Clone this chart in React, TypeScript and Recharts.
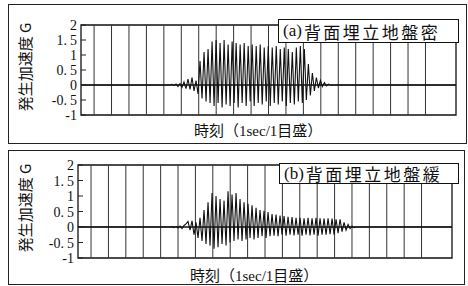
import React from 'react';
import { LineChart, Line, XAxis, YAxis, ReferenceLine, ReferenceArea } from 'recharts';

// ---- data ----
const Y_TICKS = [-1, -0.5, 0, 0.5, 1, 1.5, 2];
const GRID_TIMES = [0.75, 1.75, 2.75, 3.75, 4.75, 5.75, 6.75, 7.75, 8.75, 9.75, 10.75, 11.75, 12.75, 13.75, 14.75, 15.75, 16.75, 17.75, 18.75, 19.75];
const T_MIN = 0;
const T_MAX = 21.5;
const SAMPLE_DT = 0.115; // seconds between read samples

const A_TITLE = '(a)';
const A_NAME = '背面埋立地盤密';
const A_START = 5.1;
const A_VALUES = [0, 0.02, -0.02, 0.03, -0.05, 0.05, -0.08, 0.1, -0.12, 0.2, -0.15, 0.25, -0.2, 0.15, -0.3, 0.8, -0.45, 1.1, -0.55, 1.2, -0.6, 1.45, -0.7, 1.5, -0.6, 1.4, -0.75, 1.5, -0.65, 1.35, -0.7, 1.45, -0.6, 1.4, -0.75, 1.35, -0.6, 1.4, -0.7, 1.3, -0.55, 1.35, -0.7, 1.3, -0.6, 1.35, -0.65, 1.25, -0.55, 1.3, -0.7, 1.25, -0.6, 1.3, -0.65, 1.2, -0.55, 1.25, -0.7, 1.2, -0.6, 1.1, -0.65, 1.25, -0.55, 1.3, -0.6, 1.2, -0.5, 0.7, -0.35, 0.4, -0.2, 0.25, -0.1, 0.15, -0.05, 0.08, -0.03, 0.03, 0];

const B_TITLE = '(b)';
const B_NAME = '背面埋立地盤緩';
const B_START = 5.29;
const B_VALUES = [0, 0.01, -0.02, 0.02, -0.03, 0.03, -0.05, 0.05, 0.1, 0.18, -0.1, 0.2, -0.25, 0.15, -0.35, 0.3, -0.45, 0.55, -0.55, 0.8, -0.6, 1.1, -0.7, 1.0, -0.65, 0.9, -0.55, 0.85, -0.6, 1.15, -0.5, 1.05, -0.45, 1.1, -0.4, 0.9, -0.45, 0.8, -0.4, 0.75, -0.35, 0.7, -0.4, 0.62, -0.35, 0.55, -0.3, 0.52, -0.35, 0.48, -0.3, 0.42, -0.28, 0.4, -0.3, 0.37, -0.25, 0.35, -0.28, 0.33, -0.25, 0.32, -0.27, 0.3, -0.25, 0.3, -0.28, 0.28, -0.25, 0.3, -0.27, 0.28, -0.25, 0.3, -0.28, 0.28, -0.25, 0.27, -0.25, 0.28, -0.23, 0.27, -0.25, 0.25, -0.2, 0.25, -0.15, 0.15, -0.1, 0.08, -0.05, 0.03, -0.02, 0];

const X_LABEL = '時刻（1sec/1目盛）';
const Y_LABEL = '発生加速度 G';

const SERIF = '"Liberation Serif", "Noto Sans CJK JP", serif';
const CJK = '"Noto Sans CJK JP", "Liberation Serif", sans-serif';

function buildSeries(start: number, values: number[]) {
  const pts = values.map((v, i) => ({ t: +(start + i * SAMPLE_DT).toFixed(4), v }));
  return [{ t: T_MIN, v: 0 }, ...pts, { t: T_MAX, v: 0 }];
}

const YTick = (props: any) => {
  const { x, y, payload } = props;
  const val: number = payload.value;
  const s = String(val);
  const parts = s.split('.');
  return (
    <g>
      <text x={x} y={y} dy="0.36em" textAnchor="end" fontFamily={SERIF} fontSize={14} fill="#111">
        {parts.length > 1 ? (
          <>
            {parts[0] + '.'}
            <tspan dx={3}>{parts[1]}</tspan>
          </>
        ) : (
          s
        )}
      </text>
      <line x1={x + 4} x2={x + 9} y1={y} y2={y} stroke="#222" strokeWidth={1} />
    </g>
  );
};

type PanelProps = {
  top: number;
  height: number;
  margin: { top: number; right: number; bottom: number; left: number };
  data: { t: number; v: number }[];
};

const Panel = ({ top, height, margin, data }: PanelProps) => (
  <div style={{ position: 'absolute', left: 0, top, width: 468, height }}>
    <LineChart width={468} height={height} data={data} margin={margin}>
      <XAxis type="number" dataKey="t" domain={[T_MIN, T_MAX]} hide allowDataOverflow />
      <YAxis
        type="number"
        domain={[-1, 2]}
        ticks={Y_TICKS}
        width={40}
        axisLine={false}
        tickLine={false}
        tickSize={0}
        tickMargin={4}
        tick={<YTick />}
        interval={0}
      />
      {GRID_TIMES.map((g) => (
        <ReferenceLine key={g} x={g} stroke="#333" strokeWidth={1} />
      ))}
      <ReferenceLine y={0} stroke="#111" strokeWidth={1.4} />
      <ReferenceArea x1={T_MIN} x2={T_MAX} y1={-1} y2={2} fill="none" stroke="#111" strokeWidth={1.3} />
      <Line
        type="linear"
        dataKey="v"
        stroke="#111"
        strokeWidth={1.1}
        dot={false}
        isAnimationActive={false}
      />
    </LineChart>
  </div>
);

const LegendBox = ({ left, top, width, height, title, name }: any) => (
  <div
    style={{
      position: 'absolute',
      left,
      top,
      width,
      height,
      boxSizing: 'border-box',
      border: '1.5px solid #111',
      background: '#fff',
      display: 'flex',
      alignItems: 'center',
      paddingLeft: 4,
      whiteSpace: 'nowrap',
      color: '#111',
    }}
  >
    <span style={{ fontFamily: SERIF, fontSize: 17 }}>{title}</span>
    <span style={{ fontFamily: CJK, fontSize: 17, letterSpacing: 2.5, marginLeft: 2 }}>{name}</span>
  </div>
);

const Frame = ({ left, top, width, height }: any) => (
  <div
    style={{
      position: 'absolute',
      left,
      top,
      width,
      height,
      boxSizing: 'border-box',
      border: '1.5px solid #222',
    }}
  />
);

const XLabel = ({ left, top }: any) => (
  <div style={{ position: 'absolute', left, top, fontFamily: SERIF, fontSize: 15, color: '#111', whiteSpace: 'nowrap', lineHeight: '16px' }}>
    {X_LABEL}
  </div>
);

const YLabel = ({ cx, cy }: any) => (
  <div
    style={{
      position: 'absolute',
      left: cx - 50,
      top: cy - 9,
      width: 100,
      height: 18,
      textAlign: 'center',
      fontFamily: CJK,
      fontSize: 15,
      lineHeight: '18px',
      color: '#111',
      transform: 'rotate(-90deg)',
      whiteSpace: 'nowrap',
    }}
  >
    {Y_LABEL}
  </div>
);

export default function App() {
  const dataA = buildSeries(A_START, A_VALUES);
  const dataB = buildSeries(B_START, B_VALUES);
  return (
    <div style={{ position: 'absolute', left: 0, top: 0, width: 468, height: 286, background: '#fff', overflow: 'hidden' }}>
      <Frame left={8} top={4} width={459} height={140} />
      <Frame left={8} top={150} width={457} height={135} />
      <Panel top={0} height={145} margin={{ top: 25, right: 12, bottom: 30, left: 41 }} data={dataA} />
      <Panel top={140} height={146} margin={{ top: 25, right: 16, bottom: 28, left: 38 }} data={dataB} />
      <LegendBox left={278} top={19} width={181} height={24} title={A_TITLE} name={A_NAME} />
      <LegendBox left={279} top={163} width={180} height={21} title={B_TITLE} name={B_NAME} />
      <XLabel left={194} top={123} />
      <XLabel left={190} top={268} />
      <YLabel cx={25} cy={67} />
      <YLabel cx={25} cy={208} />
    </div>
  );
}
